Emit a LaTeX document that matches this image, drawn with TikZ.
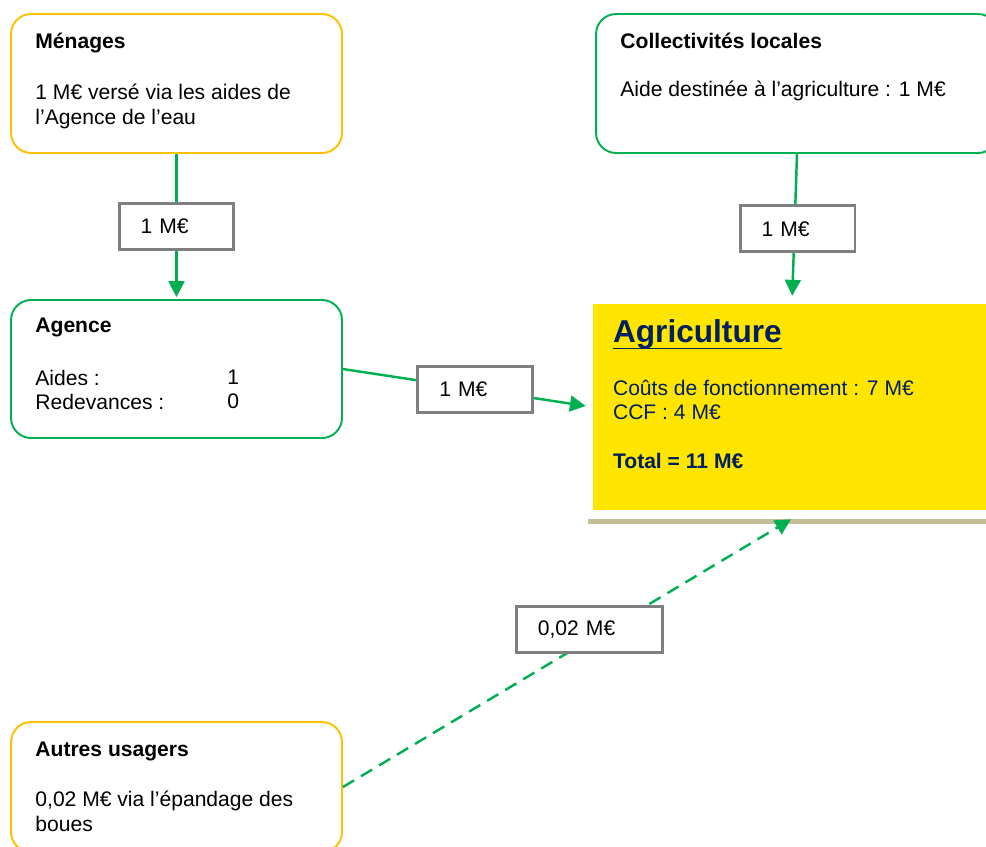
\documentclass[tikz,border=0pt]{standalone}
\usepackage{fontspec}
\setmainfont{Liberation Sans}
\usepackage{tikz}
\usetikzlibrary{arrows.meta, positioning}
\definecolor{orangeline}{RGB}{255,192,0}
\definecolor{greenline}{RGB}{0,176,80}
\definecolor{graybox}{RGB}{127,127,127}
\definecolor{agriyellow}{RGB}{255,229,0}
\definecolor{agrinavy}{RGB}{0,32,96}
\definecolor{shelftan}{RGB}{196,189,151}
\newcommand{\bodyfont}{\fontsize{12}{13.7}\selectfont}
\newcommand{\agriul}[1]{\setbox0\hbox{#1}\rlap{\rule[-3.6pt]{\wd0}{1pt}}\box0}
\tikzstyle{actorbox} = [rectangle, rounded corners=0.4cm, line width=1.1pt, minimum width=6.62cm, minimum height=2.78cm]
\tikzstyle{userbox} = [actorbox, draw=orangeline]
\tikzstyle{orgbox} = [actorbox, draw=greenline]
\tikzstyle{sectorbox} = [rectangle, fill=agriyellow, minimum width=7.96cm, minimum height=4.12cm]
\tikzstyle{txt} = [anchor=north west, inner sep=0pt, align=left, font=\bodyfont]
\tikzstyle{head} = [txt, font=\bodyfont\bfseries]
\tikzstyle{amount} = [rectangle, solid, draw=graybox, line width=1.7pt, fill=white, minimum height=0.92cm, inner xsep=0.43cm, text width=1.44cm, align=left, font=\bodyfont]
\tikzstyle{flow} = [draw=greenline, line width=1.4pt, -{Triangle[length=9pt,width=9pt]}]
\tikzstyle{shelf} = [draw=shelftan, line width=2.8pt]

\begin{document}
\begin{tikzpicture}[x=0.02cm, y=-0.02cm]
	\useasboundingbox (0,0) rectangle (986,846);
	\clip (0,0) rectangle (986,846);

	\node[userbox] (menages) at (176.5,83.5) {};
	\node[orgbox, minimum width=8.04cm] (colloc) at (797,83.5) {};
	\node[orgbox, minimum height=2.76cm] (agence) at (176.5,369) {};
	\node[sectorbox] (agri) at (792,407) {};
	\node[userbox, minimum height=2.6cm] (autres) at (176.5,787) {};
	\draw[shelf] ([shift={(-5,11)}]agri.south west) -- ([shift={(10,11)}]agri.south east);
	\coordinate (agri_foot) at ([shift={(-1,9)}]agri.south);

	\node[head] (menages_title) at ([shift={(25,20)}]menages.north west) {Ménages};
	\node[txt] (menages_text) at ([shift={(25,71)}]menages.north west) {1 M€ versé via les aides de\\l’Agence de l’eau};
	\node[head] (colloc_title) at ([shift={(25,20)}]colloc.north west) {Collectivités locales};
	\node[txt] (colloc_text) at ([shift={(25,68)}]colloc.north west) {Aide destinée à l’agriculture : 1 M€};
	\node[head] (agence_title) at ([shift={(25,19)}]agence.north west) {Agence};
	\node[txt] (agence_text) at ([shift={(25,71)}]agence.north west) {Aides :\\Redevances :};
	\node[txt] (agence_values) at ([shift={(217,71)}]agence.north west) {1\\0};
	\node[txt, font=\fontsize{18}{21}\selectfont\bfseries, text=agrinavy] (agri_title) at ([shift={(20,16)}]agri.north west) {\agriul{Agriculture}};
	\node[txt, text=agrinavy] (agri_text) at ([shift={(20,76)}]agri.north west) {Coûts de fonctionnement : 7 M€\\CCF : 4 M€};
	\node[head, text=agrinavy] (agri_total) at ([shift={(20,149)}]agri.north west) {Total = 11 M€};
	\node[head] (autres_title) at ([shift={(25,21)}]autres.north west) {Autres usagers};
	\node[txt] (autres_text) at ([shift={(25,70)}]autres.north west) {0,02 M€ via l’épandage des\\boues};

	\draw[flow, shorten >=0.04cm] (menages) -- node[amount] (amount_menages) {1 M€} (agence);
	\draw[flow, shorten >=0.16cm] (colloc.south) -- node[amount, xshift=0.06cm] (amount_colloc) {1 M€} (agri.north);
	\draw[flow, shorten >=0.14cm] (agence.east) -- node[amount, pos=0.53] (amount_agence) {1 M€} (agri.west);
	\draw[flow, dash pattern=on 0.26cm off 0.16cm] (autres.east) -- node[amount, text width=2.06cm, pos=0.55, yshift=0.2cm] (amount_autres) {0,02 M€} (agri_foot);
\end{tikzpicture}
\end{document}
